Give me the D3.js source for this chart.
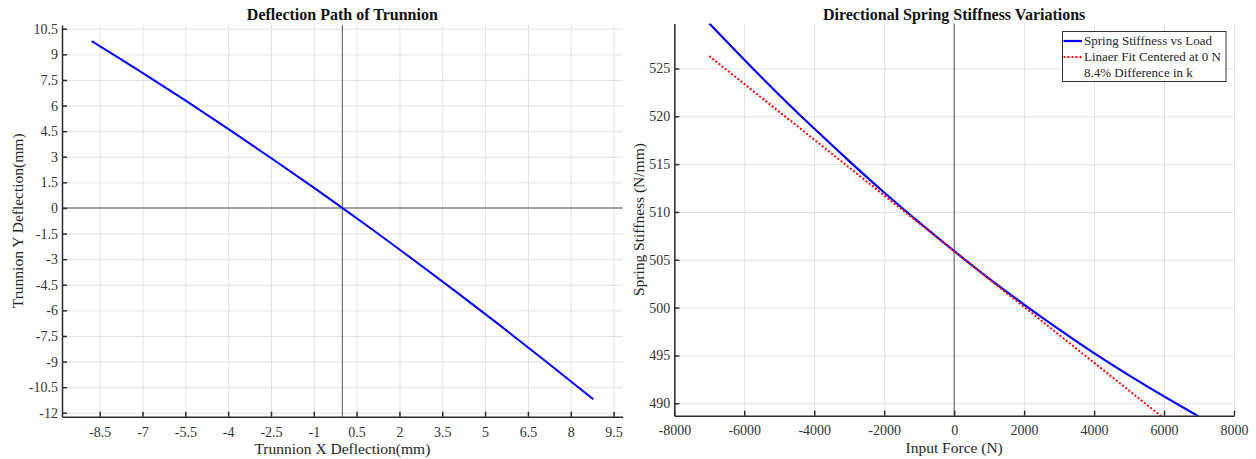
<!DOCTYPE html>
<html>
<head>
<meta charset="utf-8">
<script src="https://cdn.jsdelivr.net/npm/d3@7"></script>
<style>
  body { margin: 0; background: #fff; }
  svg { display: block; font-family: "Liberation Serif", "Times New Roman", serif; }
  .grid line { stroke: #e2e2e2; stroke-width: 1; }
  .grid path { display: none; }
  .axis path, .axis line { stroke: #2b2b2b; stroke-width: 1.5; }
  .axis text { font-size: 14px; fill: #333; font-family: "Liberation Serif", serif; }
  .title { font-size: 16px; font-weight: bold; fill: #111; text-anchor: middle; }
  .aText { font-size: 15.5px; fill: #262626; text-anchor: middle; }
  .legend text { font-size: 13px; fill: #262626; }
</style>
</head>
<body>
<div id="chart"></div>
<script>
// ---- data ----
// left panel: trunnion deflection path (mm)
var pathX = [-8.78, -7, -5.5, -4, -2.5, -1, 0, 1, 2.5, 4, 5.5, 7, 8.79];
var pathY = [9.78, 7.92, 6.30, 4.63, 2.93, 1.19, 0, -1.20, -3.05, -4.93, -6.85, -8.82, -11.21];
var leftXTicks = [-8.5, -7, -5.5, -4, -2.5, -1, 0.5, 2, 3.5, 5, 6.5, 8, 9.5];
var leftYTicks = [-12, -10.5, -9, -7.5, -6, -4.5, -3, -1.5, 0, 1.5, 3, 4.5, 6, 7.5, 9, 10.5];

// right panel: stiffness vs load
var force = [-7000, -6000, -5000, -4000, -3000, -2000, -1000, 0, 1000, 2000, 3000, 4000, 5000, 6000, 7000];
var stiffness = [529.7, 525.9, 522.2, 518.7, 515.3, 512.0, 508.9, 505.9, 503.0, 500.3, 497.7, 495.2, 492.9, 490.7, 488.6];
var fitForce = [-7000, 0, 7000];
var fitStiffness = [526.3, 505.9, 485.5];
var rightXTicks = [-8000, -6000, -4000, -2000, 0, 2000, 4000, 6000, 8000];
var rightYTicks = [490, 495, 500, 505, 510, 515, 520, 525];
var legendLabels = ["Spring Stiffness vs Load", "Linaer Fit Centered at 0 N", "8.4% Difference in k"];

var svgWidth = 1256;
var svgHeight = 459;

var svg = d3.select("#chart")
  .append("svg")
  .attr("width", svgWidth)
  .attr("height", svgHeight);

// plot boxes (pixel extents of each axes area)
var leftBox = { left: 62, right: 622.7, top: 25, bottom: 416.7 };
var rightBox = { left: 674.3, right: 1234, top: 23.5, bottom: 415.7 };

var fmt = function(d) { return String(d); };

// ---------------- left panel ----------------
var xL = d3.scaleLinear().domain([-9.82, 9.82]).range([leftBox.left, leftBox.right]);
var yL = d3.scaleLinear().domain([-12.23, 10.72]).range([leftBox.bottom, leftBox.top]);

var left = svg.append("g");

// grid
left.append("g")
  .attr("class", "grid")
  .attr("transform", `translate(0, ${leftBox.bottom})`)
  .call(d3.axisBottom(xL).tickValues(leftXTicks).tickSize(-(leftBox.bottom - leftBox.top)).tickFormat(""));
left.append("g")
  .attr("class", "grid")
  .attr("transform", `translate(${leftBox.left}, 0)`)
  .call(d3.axisLeft(yL).tickValues(leftYTicks).tickSize(-(leftBox.right - leftBox.left)).tickFormat(""));

// zero lines
left.append("line")
  .attr("x1", xL(0)).attr("x2", xL(0))
  .attr("y1", leftBox.top).attr("y2", leftBox.bottom)
  .attr("stroke", "#555").attr("stroke-width", 1);
left.append("line")
  .attr("x1", leftBox.left).attr("x2", leftBox.right)
  .attr("y1", yL(0)).attr("y2", yL(0))
  .attr("stroke", "#555").attr("stroke-width", 1);

// deflection path
var pathData = pathX.map(function(x, i) { return [x, pathY[i]]; });
left.append("path")
  .datum(pathData)
  .attr("fill", "none")
  .attr("stroke", "#0000ff")
  .attr("stroke-width", 2)
  .attr("d", d3.line().x(d => xL(d[0])).y(d => yL(d[1])).curve(d3.curveMonotoneX));

// axes
left.append("g")
  .attr("class", "axis")
  .attr("transform", `translate(0, ${leftBox.bottom})`)
  .call(d3.axisBottom(xL).tickValues(leftXTicks).tickSizeInner(-5).tickSizeOuter(0).tickPadding(10).tickFormat(fmt));
left.append("g")
  .attr("class", "axis")
  .attr("transform", `translate(${leftBox.left}, 0)`)
  .call(d3.axisLeft(yL).tickValues(leftYTicks).tickSizeInner(-5).tickSizeOuter(0).tickPadding(4).tickFormat(fmt));

left.append("text")
  .attr("class", "title")
  .attr("x", (leftBox.left + leftBox.right) / 2)
  .attr("y", 20)
  .text("Deflection Path of Trunnion");
left.append("text")
  .attr("class", "aText")
  .attr("x", (leftBox.left + leftBox.right) / 2)
  .attr("y", 454)
  .text("Trunnion X Deflection(mm)");
left.append("text")
  .attr("class", "aText")
  .attr("transform", `translate(23, ${(leftBox.top + leftBox.bottom) / 2}) rotate(-90)`)
  .text("Trunnion Y Deflection(mm)");

// ---------------- right panel ----------------
var xR = d3.scaleLinear().domain([-8000, 8000]).range([rightBox.left, rightBox.right]);
var yR = d3.scaleLinear().domain([488.7, 529.7]).range([rightBox.bottom, rightBox.top]);

var right = svg.append("g");

svg.append("defs").append("clipPath")
  .attr("id", "clipR")
  .append("rect")
  .attr("x", rightBox.left).attr("y", rightBox.top)
  .attr("width", rightBox.right - rightBox.left)
  .attr("height", rightBox.bottom - rightBox.top);

right.append("g")
  .attr("class", "grid")
  .attr("transform", `translate(0, ${rightBox.bottom})`)
  .call(d3.axisBottom(xR).tickValues(rightXTicks).tickSize(-(rightBox.bottom - rightBox.top)).tickFormat(""));
right.append("g")
  .attr("class", "grid")
  .attr("transform", `translate(${rightBox.left}, 0)`)
  .call(d3.axisLeft(yR).tickValues(rightYTicks).tickSize(-(rightBox.right - rightBox.left)).tickFormat(""));

right.append("line")
  .attr("x1", xR(0)).attr("x2", xR(0))
  .attr("y1", rightBox.top).attr("y2", rightBox.bottom)
  .attr("stroke", "#555").attr("stroke-width", 1);

var plotR = right.append("g").attr("clip-path", "url(#clipR)");

// stiffness curve
plotR.append("path")
  .datum(force.map(function(f, i) { return [f, stiffness[i]]; }))
  .attr("fill", "none")
  .attr("stroke", "#0000ff")
  .attr("stroke-width", 2.2)
  .attr("d", d3.line().x(d => xR(d[0])).y(d => yR(d[1])).curve(d3.curveBasis));

// linear fit (dotted)
plotR.append("path")
  .datum(fitForce.map(function(f, i) { return [f, fitStiffness[i]]; }))
  .attr("fill", "none")
  .attr("stroke", "#ff0000")
  .attr("stroke-width", 2)
  .attr("stroke-dasharray", "2,2")
  .attr("d", d3.line().x(d => xR(d[0])).y(d => yR(d[1])));

right.append("g")
  .attr("class", "axis")
  .attr("transform", `translate(0, ${rightBox.bottom})`)
  .call(d3.axisBottom(xR).tickValues(rightXTicks).tickSizeInner(-5).tickSizeOuter(0).tickPadding(9.5).tickFormat(fmt));
right.append("g")
  .attr("class", "axis")
  .attr("transform", `translate(${rightBox.left}, 0)`)
  .call(d3.axisLeft(yR).tickValues(rightYTicks).tickSizeInner(-5).tickSizeOuter(0).tickPadding(4).tickFormat(fmt));

right.append("text")
  .attr("class", "title")
  .attr("x", (rightBox.left + rightBox.right) / 2)
  .attr("y", 19.5)
  .text("Directional Spring Stiffness Variations");
right.append("text")
  .attr("class", "aText")
  .attr("x", (rightBox.left + rightBox.right) / 2)
  .attr("y", 453)
  .text("Input Force (N)");
right.append("text")
  .attr("class", "aText")
  .attr("transform", `translate(643.5, ${(rightBox.top + rightBox.bottom) / 2}) rotate(-90)`)
  .text("Spring Stiffness (N/mm)");

// legend
var legend = right.append("g").attr("class", "legend");
legend.append("rect")
  .attr("x", 1062.5).attr("y", 31.5)
  .attr("width", 163.5).attr("height", 50)
  .attr("fill", "#fff")
  .attr("stroke", "#333")
  .attr("stroke-width", 1);

var legendStyles = [
  { color: "#0000ff", dash: null, width: 2.2 },
  { color: "#ff0000", dash: "2,2", width: 2 },
  null
];
legendLabels.forEach(function(label, i) {
  var cy = 41 + i * 16;
  var st = legendStyles[i];
  if (st) {
    legend.append("line")
      .attr("x1", 1063.5).attr("x2", 1082)
      .attr("y1", cy).attr("y2", cy)
      .attr("stroke", st.color)
      .attr("stroke-width", st.width)
      .attr("stroke-dasharray", st.dash);
  }
  legend.append("text")
    .attr("x", 1084)
    .attr("y", cy)
    .attr("dy", "0.33em")
    .text(label);
});
</script>
</body>
</html>
